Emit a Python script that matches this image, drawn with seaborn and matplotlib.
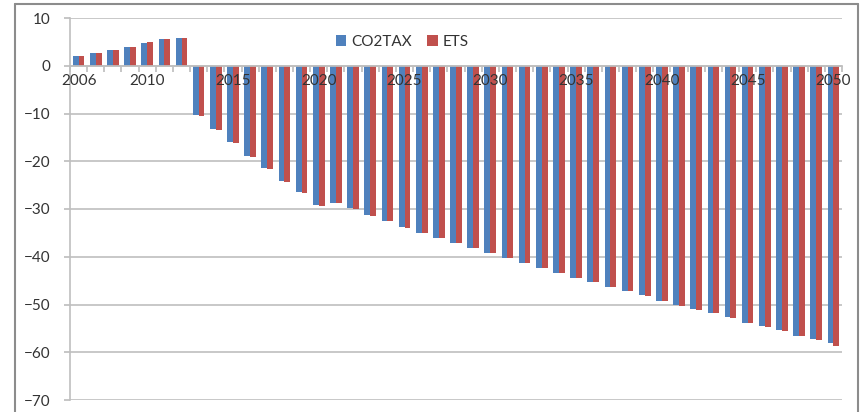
import matplotlib
matplotlib.use("Agg")
import matplotlib.pyplot as plt
from matplotlib.lines import Line2D
from matplotlib.ticker import FixedLocator, MultipleLocator, NullFormatter
import matplotlib.transforms as mtransforms
import numpy as np
import pandas as pd
import seaborn as sns

years = list(range(2006, 2051))
co2tax = [2.0, 2.7, 3.3, 4.0, 4.8, 5.5, 5.8,
          -10.4, -13.3, -16.0, -19.0, -21.5, -24.2, -26.5, -29.2, -28.7,
          -29.8, -31.3, -32.5, -33.8, -35.0, -36.0, -37.1, -38.1, -39.2,
          -40.2, -41.3, -42.3, -43.3, -44.4, -45.2, -46.3, -47.1, -48.1,
          -49.2, -50.2, -51.0, -51.7, -52.7, -53.8, -54.6, -55.4, -56.5,
          -57.3, -58.0]
ets = [2.0, 2.7, 3.3, 4.0, 4.9, 5.6, 5.9,
       -10.5, -13.4, -16.1, -19.1, -21.6, -24.3, -26.7, -29.4, -28.8,
       -30.0, -31.4, -32.6, -34.0, -35.1, -36.1, -37.2, -38.2, -39.3,
       -40.3, -41.4, -42.4, -43.4, -44.5, -45.3, -46.4, -47.2, -48.2,
       -49.3, -50.3, -51.1, -51.8, -52.8, -53.9, -54.7, -55.5, -56.6,
       -57.4, -58.6]
series_names = ["CO2TAX", "ETS"]
labelled_years = [2006, 2010, 2015, 2020, 2025, 2030, 2035, 2040, 2045, 2050]

df = pd.DataFrame({
    "year": years * 2,
    "value": co2tax + ets,
    "series": [series_names[0]] * len(years) + [series_names[1]] * len(years),
})

sns.set_theme(style="white")
plt.rcParams["font.family"] = ["Lato", "DejaVu Sans"]

fig = plt.figure(figsize=(8.64, 4.12), dpi=100)
ax = fig.add_axes([70 / 864, 1 - 400 / 412, 772 / 864, 382 / 412])

palette = {"CO2TAX": "#4F81BD", "ETS": "#C0504D"}
sns.barplot(data=df, x="year", y="value", hue="series", palette=palette,
            width=0.68, saturation=1, ax=ax, errorbar=None, linewidth=0)

ax.set_ylim(-70, 10)
ax.set_xlim(-0.5, len(years) - 0.5)
ax.yaxis.set_major_locator(MultipleLocator(10))
ax.yaxis.grid(True, color="#BFBFBF", linewidth=1.2)
ax.set_axisbelow(True)

# category axis crosses at zero
ax.spines["bottom"].set_position(("data", 0))
ax.spines["bottom"].set_color("#BFBFBF")
ax.spines["left"].set_color("#BFBFBF")
ax.spines["left"].set_linewidth(1.2)
ax.spines["top"].set_visible(False)
ax.spines["right"].set_visible(False)

ax.set_xticks(np.arange(-0.5, len(years), 1.0))
ax.xaxis.set_major_formatter(NullFormatter())
ax.tick_params(axis="x", which="major", length=4, color="#BFBFBF", bottom=True)
ax.tick_params(axis="y", length=4, color="#BFBFBF", left=True, pad=10,
               labelsize=11, labelcolor="#333333")
ax.set_xlabel("")
ax.set_ylabel("")

# year labels sit just under the zero line, drawn over the bars
label_tf = mtransforms.offset_copy(ax.transData, fig=fig, x=0, y=-6, units="points")
for y in labelled_years:
    ax.text(years.index(y), 0, str(y), transform=label_tf, ha="center", va="top",
            fontsize=11, color="#333333", zorder=10, clip_on=False)

handles, labels = ax.get_legend_handles_labels()
ax.legend(handles, labels, loc="center", bbox_to_anchor=(0.43, 0.937),
          ncol=2, frameon=False, fontsize=11, handlelength=0.7,
          handleheight=0.7, handletextpad=0.3, columnspacing=1.0,
          labelcolor="#333333")

# outer chart border
for xs, ys in [((15, 15), (0, 408)), ((15, 858), (408, 408)), ((858, 858), (408, 0))]:
    fig.add_artist(Line2D([x / 864 for x in xs], [y / 412 for y in ys],
                          color="#8C8C8C", linewidth=1.5,
                          transform=fig.transFigure))

fig.savefig("out.png", dpi=100)
